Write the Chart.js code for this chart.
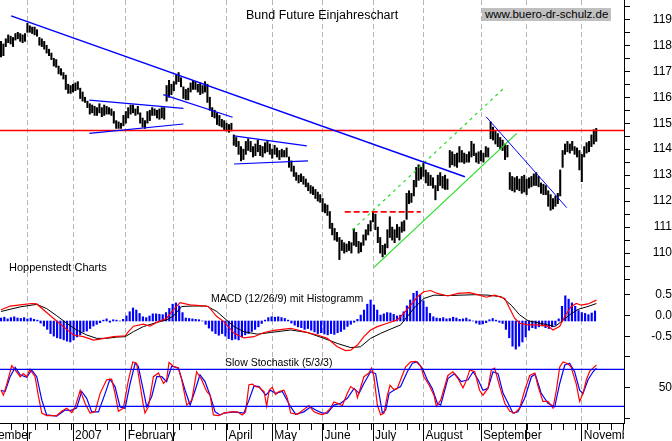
<!DOCTYPE html>
<html>
<head>
<meta charset="utf-8">
<script src="https://cdn.jsdelivr.net/npm/chart.js@4.4.1/dist/chart.umd.min.js"></script>
<style>
  html, body { margin: 0; padding: 0; background: #fff; }
  #wrap { position: relative; width: 672px; height: 441px; overflow: hidden; }
  canvas { position: absolute; left: 0; top: 0; }
  .lbl { position: absolute; font-family: 'Liberation Sans', Arial, sans-serif; color: #000; white-space: nowrap; line-height: 1; }
</style>
</head>
<body>
<div id="wrap">
  <canvas id="chart" width="672" height="441"></canvas>
  <div class="lbl" style="left:246px;top:9px;font-size:12.5px">Bund Future Einjahreschart</div>
  <div class="lbl" style="left:482px;top:8px;height:13px;line-height:13px;padding:0 3px;font-size:11.5px;background:#c0c0c0">www.buero-dr-schulz.de</div>
  <div class="lbl" style="left:9px;top:262px;font-size:11px">Hoppenstedt Charts</div>
  <div class="lbl" style="left:211px;top:293px;font-size:10.5px">MACD (12/26/9) mit Histogramm</div>
  <div class="lbl" style="left:225px;top:357px;font-size:10.5px">Slow Stochastik (5/3/3)</div>
</div>
<script>
// trading day index 0 = mid November 2006
const monthStarts = [11, 30, 52, 72, 94, 113, 134, 155, 176, 200, 219, 242];
const monthLabelDays = [-11, 30, 52, 94, 113, 134, 155, 176, 200, 242];
const monthLabels = ['November', '2007', 'February', 'April', 'May', 'June', 'July', 'August', 'September', 'November'];
const priceTicks = [110, 111, 112, 113, 114, 115, 116, 117, 118, 119];
const macdTicks = [0.5, 0, -0.5];
const stochTicks = [0, 50, 100];

const priceHigh = [
  118.15,118.05,118.25,118.4,118.35,118.3,118.45,118.5,118.45,118.4,
  118.45,118.85,118.75,118.7,118.7,118.6,118.3,118.25,118.15,118.0,
  117.85,117.7,117.5,117.45,117.2,117.1,116.95,116.85,116.5,116.45,
  116.5,116.55,116.6,116.35,116.2,116.0,115.85,115.75,115.7,115.65,
  115.6,115.75,115.6,115.7,115.65,115.6,115.55,115.45,115.1,115.05,
  115.0,115.3,115.45,115.6,115.7,115.7,115.55,115.65,115.4,115.2,
  115.1,115.45,115.5,115.6,115.55,115.5,115.55,115.6,115.6,116.45,
  116.65,116.5,116.6,116.85,116.95,116.75,116.4,116.3,116.35,116.55,
  116.65,116.6,116.5,116.55,116.45,116.6,116.5,116.0,115.6,115.5,
  115.4,115.3,115.15,115.1,115.0,114.95,115.0,114.55,114.45,114.3,
  114.1,114.0,114.3,114.4,114.3,114.1,114.2,114.35,114.15,114.1,
  114.25,114.3,114.2,114.0,114.15,114.05,113.95,114.0,113.95,114.05,
  113.7,113.55,113.35,113.1,113.0,113.05,112.95,112.85,112.7,112.6,
  112.55,112.45,112.35,112.25,112.1,111.9,111.85,111.6,111.15,110.95,
  110.8,110.6,110.5,110.4,110.35,110.45,110.4,110.95,110.8,110.45,
  110.4,110.7,110.9,111.1,111.25,111.6,111.5,111.0,110.6,110.3,
  110.35,110.9,111.4,111.0,110.9,111.1,111.0,111.2,111.25,112.3,
  112.4,112.3,112.8,113.3,113.4,113.3,113.45,113.2,113.1,113.0,
  112.9,112.6,113.0,113.1,112.95,113.0,112.85,113.95,113.9,113.8,
  113.85,114.1,113.95,113.85,113.8,113.9,114.3,114.2,113.85,113.9,
  113.95,113.85,114.1,114.05,115.05,114.85,114.7,114.6,114.45,114.35,
  114.2,114.15,113.1,112.95,112.9,112.95,112.85,112.95,113.0,112.85,
  112.9,112.95,113.05,113.1,112.95,112.7,112.65,112.6,112.4,112.25,
  112.1,112.2,112.3,113.2,113.95,114.2,114.3,114.2,114.3,114.1,
  114.05,113.95,113.8,114.1,114.25,114.3,114.55,114.75,114.8
];
const priceLow = [
  117.55,117.6,117.95,118.1,118.05,117.95,118.2,118.25,118.15,118.1,
  118.15,118.5,118.5,118.45,118.4,118.35,118.0,117.95,117.85,117.7,
  117.6,117.45,117.2,117.15,116.9,116.85,116.7,116.3,116.15,116.15,
  116.2,116.25,116.3,115.95,115.85,115.8,115.6,115.35,115.4,115.3,
  115.3,115.4,115.25,115.3,115.35,115.35,115.3,115.0,114.8,114.8,
  114.8,114.9,115.0,115.2,115.35,115.4,115.3,115.35,115.0,114.85,
  114.8,115.0,115.1,115.3,115.3,115.2,115.15,115.2,115.15,115.85,
  116.0,116.1,116.25,116.5,116.6,116.4,115.95,115.9,115.9,116.2,
  116.3,116.3,116.2,116.1,116.15,116.2,115.8,115.5,115.25,115.2,
  114.95,114.9,114.85,114.75,114.7,114.65,114.7,114.15,114.1,113.8,
  113.55,113.6,113.8,113.95,113.9,113.7,113.75,113.9,113.75,113.7,
  113.85,113.9,113.8,113.65,113.8,113.7,113.6,113.7,113.7,113.7,
  113.3,113.15,112.95,112.8,112.7,112.75,112.65,112.55,112.4,112.3,
  112.25,112.1,112.0,111.95,111.6,111.55,111.45,110.95,110.7,110.5,
  110.45,109.75,110.1,110.0,110.05,110.1,110.0,110.3,110.25,110.0,
  110.05,110.3,110.5,110.7,110.85,111.2,110.9,110.4,110.0,109.85,
  109.95,110.2,110.6,110.5,110.4,110.6,110.5,110.8,110.85,111.3,
  111.9,111.95,112.2,112.55,112.8,112.85,112.95,112.7,112.6,112.6,
  112.5,112.05,112.4,112.6,112.5,112.45,112.45,113.3,113.4,113.35,
  113.3,113.5,113.5,113.45,113.5,113.5,113.7,113.75,113.5,113.45,
  113.55,113.5,113.7,113.7,114.4,114.35,114.2,114.1,114.0,113.95,
  113.6,113.7,112.45,112.4,112.35,112.45,112.4,112.3,112.35,112.25,
  112.5,112.55,112.6,112.6,112.55,112.3,112.25,112.25,111.8,111.65,
  111.7,111.8,111.9,112.2,113.3,113.8,113.9,113.85,113.95,113.8,
  113.7,113.2,112.75,113.7,113.85,113.9,114.1,114.2,114.3
];

// trend lines drawn on the price panel: [day, price]
const downTrend = [[4.2, 119.13], [193.3, 112.94]];
const triangleTop = [[36.8, 115.89], [76, 115.57]];
const triangleBottom = [[36.8, 114.61], [76, 114.97]];
const febChannel = [[67.6, 116.1], [96.5, 115.23]];
const boxTop = [[97.1, 114.51], [127.4, 114.13]];
const boxBottom = [[97.1, 113.43], [127.9, 113.55]];
const julyHigh = [[143.2, 111.59], [174.9, 111.59]];
const channelLow = [[155.4, 109.45], [214.9, 114.61]];
const channelHigh = [[146.4, 110.89], [209.9, 116.38]];
const septTrend = [[202.1, 115.25], [235.7, 111.75]];
const resistance = 114.72;

// MACD panel: [day, value]
const macdLine = [[0,0.14],[3.8,0.23],[8,0.26],[12.8,0.29],[14.9,0.28],[17.7,0.14],[21.8,-0.06],[26,-0.26],[30.2,-0.46],[34.3,-0.5],
  [38.5,-0.58],[41.3,-0.56],[46.8,-0.5],[51.7,-0.48],[53.1,-0.38],[55.2,-0.25],[59.3,-0.2],[62.1,-0.25],[64.9,-0.16],[69,-0.06],
  [71.8,0.14],[74.6,0.31],[78.8,0.26],[82.9,0.24],[86.4,0.22],[89.9,-0.02],[92.9,-0.14],[97.1,-0.42],[101.2,-0.53],[105.4,-0.5],
  [109.6,-0.4],[113.7,-0.35],[120.7,-0.3],[126.2,-0.38],[131.8,-0.46],[136,-0.54],[140.1,-0.74],[143.6,-0.83],[145.7,-0.82],[148.5,-0.7],
  [151.2,-0.5],[154,-0.34],[156.8,-0.26],[161,-0.18],[165.1,-0.1],[167.9,0.06],[170.7,0.25],[173.5,0.45],[176.2,0.57],[179,0.6],
  [181.8,0.53],[186.2,0.47],[190.4,0.53],[195.3,0.55],[199.4,0.49],[202.2,0.44],[205.7,0.49],[209.9,0.41],[211.3,0.25],[214,-0.06],
  [216.1,-0.18],[219.6,-0.22],[223.8,-0.22],[227.9,-0.25],[230,-0.34],[232.8,-0.25],[234.9,-0.02],[237.6,0.22],[239.7,0.29],[241.8,0.25],
  [244.6,0.28],[248.1,0.37]];
const signalLine = [[0,0.1],[8,0.21],[14.9,0.27],[19,0.17],[23.2,0],[27.4,-0.18],[31.5,-0.34],[35.7,-0.46],[39.9,-0.54],[44,-0.54],
  [48.2,-0.51],[51.7,-0.5],[55.2,-0.38],[59.3,-0.26],[64.9,-0.16],[69,-0.1],[71.8,-0.01],[75.3,0.22],[80.2,0.23],[85.7,0.23],
  [89.9,0.1],[92.9,-0.05],[97.1,-0.26],[101.2,-0.38],[106.8,-0.44],[112.3,-0.4],[120.7,-0.34],[127.6,-0.4],[134.6,-0.54],[140.1,-0.66],
  [145.7,-0.76],[149.8,-0.74],[154,-0.54],[158.2,-0.42],[162.3,-0.32],[166.5,-0.22],[169.3,-0.02],[172.1,0.18],[176.2,0.41],[180.4,0.49],
  [186.3,0.48],[197.4,0.5],[202.9,0.49],[208.5,0.45],[212.6,0.25],[216.1,0.02],[219.6,-0.12],[223.8,-0.17],[227.9,-0.22],[230.7,-0.26],
  [233.5,-0.14],[236.9,0.02],[240.4,0.15],[244.6,0.22],[248.1,0.29]];
// histogram bars, one every HIST_STEP days from day 0
const histogram = [
  0.07,0.09,0.05,0.08,0.1,0.07,0.06,0.08,0.05,0.07,
  0.04,0.02,-0.05,-0.12,-0.2,-0.3,-0.36,-0.4,-0.42,-0.45,
  -0.48,-0.5,-0.45,-0.38,-0.33,-0.26,-0.24,-0.18,-0.12,-0.08,
  -0.04,0.02,0.05,-0.03,0.03,0.02,0,0.04,0.12,0.22,
  0.31,0.26,0.18,0.1,0.08,0.12,0.17,0.17,0.16,0.15,
  0.2,0.3,0.4,0.43,0.36,0.2,0.07,0.06,0.05,0.04,
  0.03,0,-0.08,-0.17,-0.24,-0.3,-0.34,-0.3,-0.36,-0.42,
  -0.45,-0.43,-0.45,-0.38,-0.33,-0.3,-0.25,-0.2,-0.14,-0.06,
  0.02,0.08,0.1,0.09,0.1,0.08,0.06,0.02,-0.05,-0.1,
  -0.14,-0.16,-0.2,-0.18,-0.22,-0.26,-0.3,-0.28,-0.31,-0.33,
  -0.3,-0.32,-0.28,-0.25,-0.2,-0.13,-0.08,-0.03,0.04,0.14,
  0.26,0.4,0.5,0.38,0.26,0.14,0.17,0.2,0.19,0.16,
  0.12,0.14,0.22,0.36,0.5,0.66,0.71,0.62,0.48,0.33,
  0.18,0.1,0.07,0.06,0.08,0.05,0.06,0.09,0.07,0.04,
  0.05,0.07,0.03,0,-0.05,-0.08,-0.07,-0.04,0.03,0.06,
  0.02,-0.03,-0.06,-0.2,-0.4,-0.6,-0.67,-0.6,-0.5,-0.38,
  -0.22,-0.16,-0.18,-0.14,-0.12,-0.16,-0.18,-0.14,-0.1,0.05,
  0.35,0.6,0.52,0.43,0.35,0.25,0.2,0.18,0.15,0.19,
  0.24
];
const HIST_STEP = 1.375;
const HIST_ZERO = -0.126;

// slow stochastic: [day, value]
const stochK = [[0,46],[1,38],[2.4,56],[4.5,86],[6.5,76],[8,68],[9.3,73],[10.7,68],[12.1,80],[14.2,68],[15.6,36],[17,9],[19,5],[23.2,5],
  [25.3,12],[27.4,17],[29.5,10],[30.9,19],[33,46],[35,25],[37.1,9],[39.2,11],[41.3,41],[44,63],[46.1,64],[47.5,41],[48.9,12],[51,17],
  [53.1,63],[54.9,92],[56.5,90],[57.9,56],[59.3,22],[60,9],[61.4,19],[63.5,68],[65.6,74],[67.7,57],[69,63],[70,91],[71.8,85],[73.9,82],
  [75.3,63],[77.4,22],[79.5,30],[81.5,76],[83.6,63],[85.7,44],[87.1,38],[88.5,6],[90.6,5],[92.9,9],[95.7,11],[98.5,11],[100.5,6],[101.9,11],
  [103.3,55],[104.7,56],[106.1,52],[107.5,51],[109.6,44],[110.7,20],[111.7,46],[113,51],[114.4,39],[115.8,44],[117.9,46],[119.3,33],[120.7,9],
  [123.5,7],[126.2,15],[128.3,21],[130.4,11],[131.8,9],[133.9,6],[135.3,9],[137.3,17],[138.7,27],[140.8,24],[142.2,21],[144.3,41],[145.7,52],
  [147.8,46],[148.5,34],[149.8,50],[151.2,68],[153.3,74],[154.4,82],[155.4,68],[156.8,22],[158.2,6],[159.6,9],[161,38],[162.1,54],[163.7,47],
  [165.1,49],[166.5,63],[168.6,84],[170.7,92],[172.8,93],[174.9,85],[176.2,68],[178.3,55],[180.4,38],[181.4,20],[183.2,30],[186.2,70],
  [188.3,76],[190.4,65],[192.5,50],[193.9,62],[195.3,79],[197.4,76],[199.4,46],[200.8,38],[202.9,49],[204.3,79],[205.7,82],[207.8,52],
  [209.9,25],[212,12],[214,9],[216.1,17],[218.2,46],[220.3,70],[222.4,74],[223.8,52],[225.8,28],[227.9,28],[230,17],[231.4,46],[232.8,84],
  [234.2,92],[236.3,89],[237.6,83],[239.7,56],[241.1,28],[242.5,41],[243.9,63],[245.3,77],[246.7,82],[248.1,87]];
const stochD = [[0,46],[1.7,44],[3.8,68],[5.9,83],[8,71],[10.7,67],[12.8,79],[14.9,68],[17,30],[19,6],[23.2,4],[26.7,14],[28.8,13],
  [31.5,17],[33.6,44],[35.7,33],[37.8,11],[40.6,11],[43.4,41],[45.4,64],[47.5,52],[49.6,19],[51.7,17],[53.8,57],[55.9,90],[57.2,85],
  [59.3,46],[60.7,19],[62.8,36],[64.9,68],[67,68],[69,60],[71.1,85],[73.9,82],[76.7,46],[78.8,22],[80.9,46],[82.9,71],[85,60],[87.1,38],
  [89.2,11],[91.3,6],[92.9,9],[97.1,11],[101.2,9],[103.3,30],[105.4,53],[107.5,52],[110.3,38],[112.3,46],[114.4,41],[117.2,44],[120.7,19],
  [122.8,7],[126.2,11],[129,19],[131.1,14],[133.9,9],[136,9],[138.7,22],[141.5,25],[144.3,33],[147.1,49],[149.2,41],[151.2,57],[154,76],
  [156.1,73],[157.5,41],[158.9,9],[160.3,14],[161.7,41],[163.7,46],[166.5,52],[169.3,76],[171.4,90],[173.5,92],[175.5,82],[177.6,63],
  [179.7,49],[181.8,25],[183.2,22],[186.2,65],[189,73],[191.8,60],[194.6,63],[196.7,76],[198.8,63],[200.8,46],[202.9,49],[205,76],
  [207.1,73],[209.2,41],[211.3,25],[213.3,9],[215.4,11],[218.2,33],[221,68],[222.6,72],[225.1,41],[227.9,25],[230.7,19],[232.8,57],
  [234.9,87],[236.9,90],[239,76],[241.1,46],[242.5,41],[244.6,63],[246.7,76],[248.1,82]];
const stochBands = [80, 20];

const X_MIN = -0.42, X_MAX = 259.58;

function seg(points, axis, color, width, dash) {
  return {
    type: 'line', yAxisID: axis, order: 1,
    data: points.map(p => ({x: p[0], y: p[1]})),
    borderColor: color, borderWidth: width, borderDash: dash || [],
    pointRadius: 0, fill: false, tension: 0
  };
}

const datasets = [
  seg(downTrend, 'yp', '#0000ff', 1.4),
  seg(triangleTop, 'yp', '#0000ff', 1.2),
  seg(triangleBottom, 'yp', '#0000ff', 1.2),
  seg(febChannel, 'yp', '#0000ff', 1.2),
  seg(boxTop, 'yp', '#0000ff', 1.2),
  seg(boxBottom, 'yp', '#0000ff', 1.2),
  seg(septTrend, 'yp', '#0000ff', 1),
  seg(julyHigh, 'yp', '#ff0000', 1.8, [6, 3]),
  seg(channelLow, 'yp', '#22dd22', 1.2),
  seg(channelHigh, 'yp', '#22dd22', 1.2, [3, 4]),
  seg([[X_MIN, resistance], [X_MAX, resistance]], 'yp', '#ff0000', 1.5),
  seg(macdLine, 'ym', '#ff0000', 1.2),
  seg(signalLine, 'ym', '#000000', 1),
  seg([[X_MIN, stochBands[0]], [X_MAX, stochBands[0]]], 'ys', '#0000ff', 1.2),
  seg([[X_MIN, stochBands[1]], [X_MAX, stochBands[1]]], 'ys', '#0000ff', 1.2),
  seg(stochK, 'ys', '#ff0000', 1.2),
  seg(stochD, 'ys', '#0000ff', 1.2),
  {
    type: 'bar', yAxisID: 'ym', order: 5, grouped: false,
    data: histogram.map((h, k) => ({x: k * HIST_STEP, y: [HIST_ZERO, HIST_ZERO + h]})),
    backgroundColor: '#0000ff', barThickness: 1.5
  },
  {
    type: 'bar', yAxisID: 'yp', order: 5, grouped: false,
    data: priceHigh.map((h, i) => ({x: i, y: [priceLow[i], h]})),
    backgroundColor: '#000000', barThickness: 1.4
  }
];

// weekly tick marks and month names under the x axis
const axisExtras = {
  id: 'axisExtras',
  afterDraw(chart) {
    const {ctx, chartArea, scales} = chart;
    const x = scales.x;
    const y0 = chartArea.bottom;
    ctx.save();
    ctx.strokeStyle = '#000';
    ctx.lineWidth = 1;
    ctx.beginPath();
    for (let d = 4; d < X_MAX; d += 5) {
      const px = Math.round(x.getPixelForValue(d)) + 0.5;
      ctx.moveTo(px, y0);
      ctx.lineTo(px, y0 + 7);
    }
    ctx.stroke();
    ctx.beginPath();
    ctx.rect(0, y0, chartArea.right, 20);
    ctx.clip();
    ctx.fillStyle = '#000';
    ctx.font = '12px "Liberation Sans", Arial, sans-serif';
    monthLabelDays.forEach((d, k) => {
      ctx.fillText(monthLabels[k], x.getPixelForValue(d) + 2, y0 + 16);
    });
    ctx.restore();
  }
};

const tickFont = {family: 'Liberation Sans', size: 12};

new Chart(document.getElementById('chart'), {
  type: 'bar',
  data: {datasets: datasets},
  options: {
    responsive: false,
    animation: false,
    devicePixelRatio: 1,
    layout: {padding: 0},
    plugins: {legend: {display: false}, tooltip: {enabled: false}},
    scales: {
      x: {
        type: 'linear', min: X_MIN, max: X_MAX, offset: false,
        ticks: {display: false},
        afterBuildTicks: s => { s.ticks = monthStarts.map(v => ({value: v})); },
        afterFit: s => { s.height = 18; s.paddingLeft = 0; s.paddingRight = 0; },
        grid: {offset: false, color: '#b4b4b4', lineWidth: 1, tickLength: 18, tickColor: '#000', tickBorderDash: []},
        border: {display: true, color: '#000', width: 1, dash: [5, 3]}
      },
      yp: {
        type: 'linear', position: 'right', stack: 'panels', stackWeight: 284, weight: 1,
        min: 108.81, max: 119.743, beginAtZero: false,
        afterBuildTicks: s => {
          const t = [];
          for (let v = 109; v <= 119.5; v += 0.5) t.push({value: v});
          s.ticks = t;
        },
        afterFit: s => { s.width = 48; s.paddingTop = 0; s.paddingBottom = 0; },
        ticks: {autoSkip: false, crossAlign: 'far', padding: 18, color: '#000', font: tickFont,
          callback: v => priceTicks.includes(v) ? String(v) : ''},
        grid: {drawOnChartArea: false, tickLength: 6, tickColor: '#000'},
        border: {color: '#000'}
      },
      ym: {
        type: 'linear', position: 'right', stack: 'panels', stackWeight: 72, weight: 2,
        min: -0.96, max: 0.755, beginAtZero: false,
        afterBuildTicks: s => { s.ticks = macdTicks.map(v => ({value: v})); },
        afterFit: s => { s.width = 48; s.paddingTop = 0; s.paddingBottom = 0; },
        ticks: {autoSkip: false, crossAlign: 'far', padding: 17, color: '#000', font: tickFont,
          callback: v => v.toFixed(1)},
        grid: {drawOnChartArea: false, tickLength: 6, tickColor: '#000'},
        border: {color: '#000'}
      },
      ys: {
        type: 'linear', position: 'right', stack: 'panels', stackWeight: 67, weight: 3,
        min: -7.1, max: 101.6, beginAtZero: false,
        afterBuildTicks: s => { s.ticks = stochTicks.map(v => ({value: v})); },
        afterFit: s => { s.width = 48; s.paddingTop = 0; s.paddingBottom = 0; },
        ticks: {autoSkip: false, crossAlign: 'far', padding: 24, color: '#000', font: tickFont,
          callback: v => v === 50 ? '50' : ''},
        grid: {drawOnChartArea: false, tickLength: 6, tickColor: '#000'},
        border: {color: '#000'}
      }
    }
  },
  plugins: [axisExtras]
});
</script>
</body>
</html>
